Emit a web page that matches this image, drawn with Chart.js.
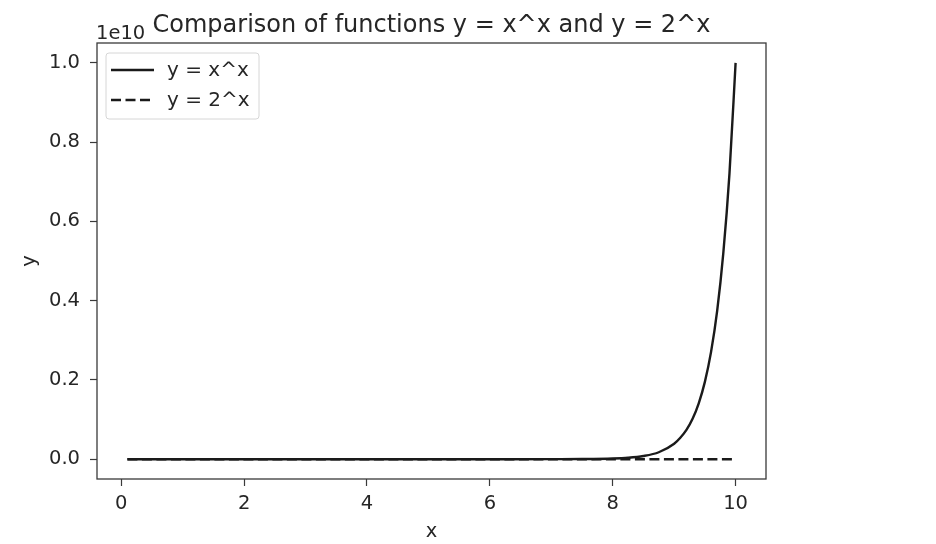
<!DOCTYPE html>
<html>
<head>
<meta charset="utf-8">
<script src="https://cdn.jsdelivr.net/npm/chart.js@4"></script>
<style>
    html, body { margin: 0; padding: 0; background: #ffffff; }
    #wrap { width: 936px; height: 544px; }
</style>
</head>
<body>
<div id="wrap"><canvas id="funcChart" width="936" height="544"></canvas></div>
<script>
    // Values
    const xPowXPoints = [
        [0.1, 0], [1, 0], [2, 0], [3, 0], [4, 0], [5, 0], [6, 0], [7, 8.2e5],
        [7.5, 3.7e6], [8, 1.7e7], [8.25, 3.6e7], [8.5, 8.0e7], [8.75, 1.75e8],
        [9, 3.9e8], [9.1, 5.4e8], [9.2, 7.4e8], [9.3, 1.02e9], [9.4, 1.41e9],
        [9.5, 1.95e9], [9.6, 2.7e9], [9.7, 3.74e9], [9.8, 5.2e9], [9.9, 7.2e9],
        [10, 1.0e10]
    ];
    const twoPowXPoints = [
        [0.1, 1], [1, 2], [2, 4], [3, 8], [4, 16], [5, 32], [6, 64], [7, 128],
        [8, 256], [9, 512], [10, 1024]
    ];
    const xTicks = [0, 2, 4, 6, 8, 10];
    const yTicks = [0, 2e9, 4e9, 6e9, 8e9, 1e10];
    const yOffsetText = '1e10';
    const chartTitle = 'Comparison of functions y = x^x and y = 2^x';

    const FONT = 'DejaVu Sans';
    const INK = '#262626';
    const TICK_SIZE = 19.5;

    // Title, offset text, frame and legend drawn on top of the plot
    const decorPlugin = {
        id: 'decor',
        afterDraw(chart) {
            const ctx = chart.ctx;
            const area = chart.chartArea;
            ctx.save();

            // frame around plot area
            ctx.strokeStyle = '#3a3a3a';
            ctx.lineWidth = 1.3;
            ctx.strokeRect(area.left, area.top, area.right - area.left, area.bottom - area.top);

            // title
            ctx.fillStyle = INK;
            ctx.font = '24px "' + FONT + '"';
            ctx.textAlign = 'center';
            ctx.textBaseline = 'alphabetic';
            ctx.fillText(chartTitle, (area.left + area.right) / 2, 32);

            // scientific offset text
            ctx.font = TICK_SIZE + 'px "' + FONT + '"';
            ctx.textAlign = 'left';
            ctx.fillText(yOffsetText, area.left - 1, 39);

            // legend inside the plot, upper left
            const bx = area.left + 9, by = area.top + 10, bw = 153, bh = 66;
            ctx.fillStyle = 'rgba(255,255,255,0.8)';
            ctx.strokeStyle = '#d6d6d6';
            ctx.lineWidth = 1;
            ctx.beginPath();
            ctx.roundRect(bx, by, bw, bh, 3);
            ctx.fill();
            ctx.stroke();

            chart.data.datasets.forEach((ds, i) => {
                const rowY = by + 17 + i * 30;
                ctx.strokeStyle = ds.borderColor;
                ctx.lineWidth = ds.borderWidth;
                ctx.setLineDash(ds.borderDash || []);
                ctx.beginPath();
                ctx.moveTo(bx + 5, rowY);
                ctx.lineTo(bx + 48, rowY);
                ctx.stroke();
                ctx.setLineDash([]);
                ctx.fillStyle = INK;
                ctx.font = '20px "' + FONT + '"';
                ctx.textBaseline = 'middle';
                ctx.fillText(ds.label, bx + 61, rowY + 1);
            });
            ctx.restore();
        }
    };

    const ctx = document.getElementById('funcChart').getContext('2d');
    new Chart(ctx, {
        type: 'line',
        data: {
            datasets: [{
                label: 'y = x^x',
                data: xPowXPoints.map(p => ({ x: p[0], y: p[1] })),
                borderColor: '#1a1a1a',
                borderWidth: 2.4,
                pointRadius: 0,
                cubicInterpolationMode: 'monotone',
                fill: false
            }, {
                label: 'y = 2^x',
                data: twoPowXPoints.map(p => ({ x: p[0], y: p[1] })),
                borderColor: '#1a1a1a',
                borderWidth: 2.4,
                borderDash: [10, 4.5],
                pointRadius: 0,
                fill: false
            }]
        },
        options: {
            responsive: false,
            animation: false,
            devicePixelRatio: 1,
            layout: {
                padding: { left: 0, right: 170, top: 43, bottom: 0 }
            },
            plugins: {
                legend: { display: false },
                title: { display: false },
                tooltip: { enabled: false }
            },
            scales: {
                x: {
                    type: 'linear',
                    min: -0.395,
                    max: 10.495,
                    afterBuildTicks: (scale) => { scale.ticks = xTicks.map(v => ({ value: v })); },
                    afterFit: (scale) => { scale.height = 65; },
                    grid: { drawOnChartArea: false, tickLength: 7, color: '#3a3a3a', tickWidth: 1.2 },
                    border: { display: false },
                    ticks: {
                        color: INK,
                        font: { family: FONT, size: TICK_SIZE },
                        padding: 6,
                        maxRotation: 0,
                        callback: (v) => String(v)
                    },
                    title: {
                        display: true,
                        text: 'x',
                        color: INK,
                        font: { family: FONT, size: TICK_SIZE },
                        padding: { top: 0, bottom: 0 }
                    }
                },
                y: {
                    type: 'linear',
                    min: -5e8,
                    max: 1.05e10,
                    afterBuildTicks: (scale) => { scale.ticks = yTicks.map(v => ({ value: v })); },
                    afterFit: (scale) => { scale.width = 97; },
                    grid: { drawOnChartArea: false, tickLength: 7, color: '#3a3a3a', tickWidth: 1.2 },
                    border: { display: false },
                    ticks: {
                        color: INK,
                        font: { family: FONT, size: TICK_SIZE },
                        padding: 10,
                        callback: (v) => (v / 1e10).toFixed(1)
                    },
                    title: {
                        display: true,
                        text: 'y',
                        color: INK,
                        font: { family: FONT, size: TICK_SIZE },
                        padding: { top: 18, bottom: 0 }
                    }
                }
            }
        },
        plugins: [decorPlugin]
    });
</script>
</body>
</html>
